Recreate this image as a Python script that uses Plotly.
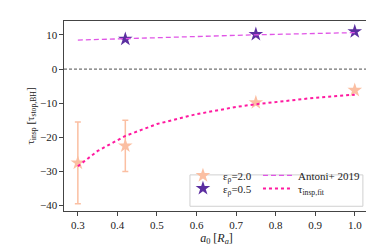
import plotly.graph_objects as go

# data
a_hi = [0.3, 0.42, 0.75, 1.0]
tau_hi = [-27.5, -22.5, -9.8, -6.2]
tau_hi_err = [12.0, 7.5, 0.0, 0.0]

a_lo = [0.42, 0.75, 1.0]
tau_lo = [8.8, 10.2, 11.0]

a_line = [0.3, 0.35, 0.42, 0.5, 0.6, 0.7, 0.75, 0.8, 0.9, 1.0]
tau_antoni = [8.5, 8.7, 9.0, 9.3, 9.6, 9.9, 10.05, 10.2, 10.45, 10.7]
tau_fit = [-28.5, -24.0, -19.6, -16.1, -13.2, -11.1, -10.3, -9.6, -8.4, -7.5]

x_ticks = [0.3, 0.4, 0.5, 0.6, 0.7, 0.8, 0.9, 1.0]
y_ticks = [10, 0, -10, -20, -30, -40]

peach = "#fbbfa2"
purple = "#5b2ea0"
violet = "#e055e6"
pink = "#ff1aa0"
FONT = "Liberation Serif"

fig = go.Figure()

fig.add_hline(y=0, line=dict(color="black", width=0.7, dash="3px,2px"))

fig.add_trace(go.Scatter(
    x=a_hi, y=tau_hi, mode="markers", name="ε<sub>ρ</sub>=2.0", legend="legend2",
    marker=dict(symbol="star", size=11, color=peach, line=dict(width=0)),
    error_y=dict(type="data", array=tau_hi_err, visible=True, color=peach,
                 thickness=1.5, width=3)))

fig.add_trace(go.Scatter(
    x=a_lo, y=tau_lo, mode="markers", name="ε<sub>ρ</sub>=0.5", legend="legend3",
    marker=dict(symbol="star", size=11, color=purple, line=dict(width=0))))

fig.add_trace(go.Scatter(
    x=a_line, y=tau_antoni, mode="lines", name="Antoni+ 2019", legend="legend4",
    line=dict(color=violet, width=1.3, dash="5px,3px")))

fig.add_trace(go.Scatter(
    x=a_line, y=tau_fit, mode="lines", name="τ<sub>insp,fit</sub>", legend="legend5",
    line=dict(color=pink, width=2, dash="dot")))

# legend frame
fig.add_shape(type="rect", xref="paper", yref="paper",
              x0=0.413, x1=0.980, y0=0.025, y1=0.19,
              line=dict(color="#d0d0d0", width=1), fillcolor="white", layer="below")

def leg(x, y):
    return dict(orientation="v", yanchor="middle", xanchor="left", x=x, y=y,
                itemwidth=30, bgcolor="rgba(0,0,0,0)", borderwidth=0,
                font=dict(size=11, family=FONT, color="#222"))

fig.update_layout(
    width=374, height=249,
    margin=dict(l=56, r=13, t=13, b=46, autoexpand=False),
    paper_bgcolor="white", plot_bgcolor="white",
    font=dict(family=FONT, size=11, color="#222"),
    legend2=leg(0.39, 0.187),
    legend3=leg(0.39, 0.119),
    legend4=leg(0.636, 0.187),
    legend5=leg(0.636, 0.119),
    xaxis=dict(
        range=[0.265, 1.036], tickvals=x_ticks,
        ticktext=[f"{v:.1f}" for v in x_ticks], automargin=False,
        showgrid=False, zeroline=False, showline=True, mirror=True,
        linecolor="#444", linewidth=1.2, ticks="outside", ticklen=3.5,
        tickcolor="#444",
        title=dict(text="<i>a</i><sub>0</sub> [<i>R<sub>a</sub></i>]",
                   standoff=2, font=dict(size=12))),
    yaxis=dict(
        range=[-41.6, 14.1], tickvals=y_ticks,
        ticktext=["10", "0", "−10", "−20", "−30", "−40"], automargin=False,
        showgrid=False, zeroline=False, showline=True, mirror=True,
        linecolor="#444", linewidth=1.2, ticks="outside", ticklen=3.5,
        tickcolor="#444",
        title=dict(text="τ<sub>insp</sub> [τ<sub>stop,BH</sub>]",
                   standoff=3, font=dict(size=11))),
)

fig.write_html("out.html")
